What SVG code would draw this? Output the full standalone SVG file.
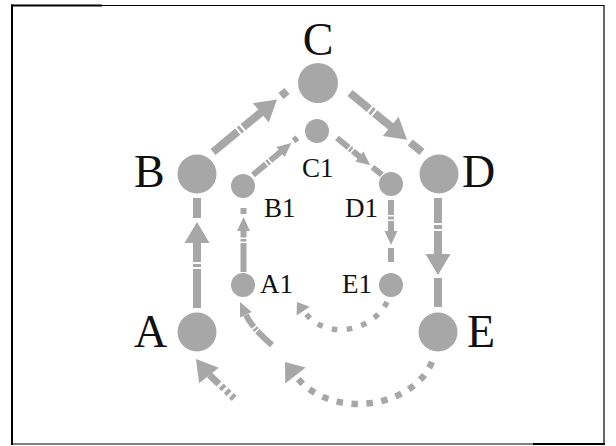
<svg xmlns="http://www.w3.org/2000/svg" xmlns:xlink="http://www.w3.org/1999/xlink" width="616" height="446" viewBox="0 0 616 446">
<style>
.bg{fill:#ffffff}
.fr{stroke:#000;fill:none}
.node{fill:#a7a7a7}
.lbl{font-family:"Liberation Serif","Times New Roman",serif;fill:#111}
.big{font-size:46px}
.sm{font-size:27px}
.lo{stroke:#a7a7a7;stroke-width:8;fill:none}
.li{stroke:#a7a7a7;stroke-width:6;fill:none}
.dto{stroke:#a7a7a7;stroke-width:6.5;fill:none;stroke-dasharray:6.5 8.5}
.dti{stroke:#a7a7a7;stroke-width:5.5;fill:none;stroke-dasharray:5.5 9.5}
.ah{fill:#a7a7a7}
</style>
<defs>
<path id="ao" d="M0,0 L-21,-12.5 L-21,12.5 Z"/>
<path id="ai" d="M0,0 L-14,-6.5 L-14,6.5 Z"/>
<path id="ad" d="M0,0 L-17,-13 L-17,13 Z"/>
<path id="adi" d="M0,0 L-11,-8 L-11,8 Z"/>
</defs>
<rect class="bg" x="0" y="0" width="616" height="446"/>
<g id="frame">
<line class="fr" x1="12" y1="4.5" x2="12" y2="445" stroke-width="2"/>
<line class="fr" x1="11" y1="5.5" x2="102" y2="5.5" stroke-width="2"/>
<line class="fr" x1="102" y1="5.5" x2="604" y2="5.5" stroke-width="1"/>
<line class="fr" x1="604" y1="5" x2="604" y2="444.5" stroke-width="1.2"/>
<line class="fr" x1="12" y1="444" x2="533" y2="444" stroke-width="1"/>
<line class="fr" x1="533" y1="444" x2="605" y2="444" stroke-width="2"/>
</g>
<g id="connectors">
<g id="e-A-B">
<path class="lo" d="M197,308 V241" style="stroke-dasharray:39 2 3 2 200"/>
<use xlink:href="#ao" class="ah" transform="translate(197,222) rotate(-90)"/>
<path class="lo" d="M197,218 V198"/>
</g>
<g id="e-B-C">
<path class="lo" d="M213,152 L264,110" style="stroke-dasharray:32 2 3 2 200"/>
<use xlink:href="#ao" class="ah" transform="translate(277,99.5) rotate(-39.5)"/>
<path class="lo" d="M281,96 L287,91"/>
</g>
<g id="e-C-D">
<path class="lo" d="M350,93 L392.5,127.9" style="stroke-dasharray:25 2 3 2 200"/>
<use xlink:href="#ao" class="ah" transform="translate(407,139.7) rotate(39.3)"/>
<path class="lo" d="M410.3,142.5 L421.9,152"/>
</g>
<g id="e-D-E">
<path class="lo" d="M438,198 V256" style="stroke-dasharray:25 2 4 2 200"/>
<use xlink:href="#ao" class="ah" transform="translate(438,275) rotate(90)"/>
<path class="lo" d="M438,278 V307"/>
</g>
<g id="e-E-A1">
<path class="dto" d="M432,362 C412,410 328,420 295,375"/>
<use xlink:href="#ad" class="ah" transform="translate(285,362) rotate(-128)"/>
</g>
<g id="e-in-A">
<path class="lo" d="M209.5,375 L237,401" style="stroke-width:7;stroke-dasharray:13 3 4 3 4 3 4 30"/>
<use xlink:href="#ao" class="ah" transform="translate(196,359) rotate(-128)"/>
</g>
<g id="e-A1-B1">
<path class="li" d="M243.5,272 V230" style="stroke-dasharray:29 1.5 2.5 1.5 100"/>
<use xlink:href="#ai" class="ah" transform="translate(243.5,217) rotate(-90)"/>
<path class="li" d="M243.5,214 V208"/>
</g>
<g id="e-B1-C1">
<path class="li" d="M253,175 L282.1,150.6" style="stroke-dasharray:17 1.5 2.5 1.5 100"/>
<use xlink:href="#ai" class="ah" transform="translate(291.3,142.9) rotate(-40)"/>
<path class="li" d="M293.5,140.9 L297.4,137.7"/>
</g>
<g id="e-C1-D1">
<path class="li" d="M337,138 L360.9,157.7" style="stroke-dasharray:15 1.5 2.5 1.5 100"/>
<use xlink:href="#ai" class="ah" transform="translate(370.2,165.3) rotate(39.4)"/>
<path class="li" d="M372.5,167.2 L381.8,174.8"/>
</g>
<g id="e-D1-E1">
<path class="li" d="M391,200 V232" style="stroke-dasharray:15 1.5 3 1.5 100"/>
<use xlink:href="#ai" class="ah" transform="translate(391,245) rotate(90)"/>
<path class="li" d="M391,248 V262"/>
</g>
<g id="e-E1-in">
<path class="dti" d="M387,302 C372,332 325,342 303,310"/>
<use xlink:href="#adi" class="ah" transform="translate(297,302) rotate(-124)"/>
</g>
<g id="e-in-A1">
<path class="li" d="M272,345 Q252,328 246,315" style="stroke-dasharray:20 1.5 2.5 1.5 100"/>
<use xlink:href="#ai" class="ah" transform="translate(240,302) rotate(-115)"/>
</g>
</g>
<g id="node-A"><circle class="node" cx="197" cy="332" r="19.5"/><text class="lbl big" x="134" y="347">A</text></g>
<g id="node-B"><circle class="node" cx="197" cy="174" r="19.5"/><text class="lbl big" x="134" y="187">B</text></g>
<g id="node-C"><circle class="node" cx="318" cy="83" r="20"/><text class="lbl big" x="318" y="55" text-anchor="middle">C</text></g>
<g id="node-D"><circle class="node" cx="439" cy="174" r="19.5"/><text class="lbl big" x="462" y="187">D</text></g>
<g id="node-E"><circle class="node" cx="438" cy="332" r="19.5"/><text class="lbl big" x="467" y="347">E</text></g>
<g id="node-A1"><circle class="node" cx="243" cy="285" r="12"/><text class="lbl sm" x="260" y="293">A1</text></g>
<g id="node-B1"><circle class="node" cx="243" cy="186" r="12"/><text class="lbl sm" x="264" y="217">B1</text></g>
<g id="node-C1"><circle class="node" cx="317" cy="131" r="12"/><text class="lbl sm" x="302" y="177">C1</text></g>
<g id="node-D1"><circle class="node" cx="391" cy="184" r="12"/><text class="lbl sm" x="345" y="217">D1</text></g>
<g id="node-E1"><circle class="node" cx="391" cy="285" r="12"/><text class="lbl sm" x="342" y="293">E1</text></g>
</svg>
